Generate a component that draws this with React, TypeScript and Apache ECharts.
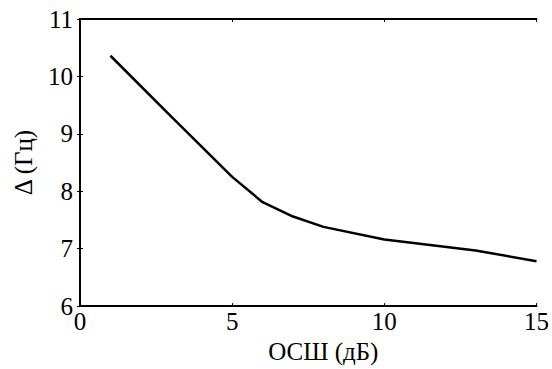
import React, { useEffect, useRef } from "react";
import * as echarts from "echarts";

const snrDb = [1, 3, 5, 6, 7, 8, 10, 13, 15];
const deltaHz = [10.36, 9.3, 8.25, 7.81, 7.56, 7.38, 7.16, 6.97, 6.78];
const xTicks = [0, 5, 10, 15];
const yTicks = [6, 7, 8, 9, 10, 11];
const xName = "ОСШ (дБ)";
const yName = "Δ (Гц)";

export default function App() {
  const ref = useRef<HTMLDivElement>(null);
  useEffect(() => {
    if (!ref.current) return;
    const chart = echarts.init(ref.current, null, { renderer: "svg" });
    const font = "Liberation Serif";
    const fs = 25;
    const axisLine = { show: true, lineStyle: { color: "#000", width: 2 } };
    const tick = { show: true, inside: true, length: 3, lineStyle: { color: "#000", width: 1 } };
    chart.setOption({
      animation: false,
      backgroundColor: "#fff",
      textStyle: { fontFamily: font },
      grid: { left: 80, right: 13, top: 19, bottom: 56, containLabel: false },
      xAxis: [
        {
          type: "value",
          min: xTicks[0],
          max: xTicks[xTicks.length - 1],
          interval: 5,
          name: xName,
          nameLocation: "middle",
          nameGap: 26,
          nameTextStyle: { fontFamily: font, fontSize: fs, color: "#000", padding: [0, 0, 0, 30] },
          axisLine,
          axisTick: tick,
          axisLabel: { fontFamily: font, fontSize: fs, color: "#000", margin: 3 },
          splitLine: { show: false },
        },
        {
          type: "value",
          position: "top",
          min: xTicks[0],
          max: xTicks[xTicks.length - 1],
          interval: 5,
          axisLine,
          axisTick: tick,
          axisLabel: { show: false },
          splitLine: { show: false },
        },
      ],
      yAxis: [
        {
          type: "value",
          min: yTicks[0],
          max: yTicks[yTicks.length - 1],
          interval: 1,
          name: yName,
          nameLocation: "middle",
          nameGap: 44,
          nameRotate: 90,
          nameTextStyle: { fontFamily: font, fontSize: fs, color: "#000" },
          axisLine,
          axisTick: tick,
          axisLabel: { fontFamily: font, fontSize: fs, color: "#000", margin: 7 },
          splitLine: { show: false },
        },
        {
          type: "value",
          position: "right",
          min: yTicks[0],
          max: yTicks[yTicks.length - 1],
          interval: 1,
          axisLine,
          axisTick: tick,
          axisLabel: { show: false },
          splitLine: { show: false },
        },
      ],
      series: [
        {
          type: "line",
          data: snrDb.map((x, i) => [x, deltaHz[i]]),
          showSymbol: false,
          lineStyle: { color: "#000", width: 2.5 },
          xAxisIndex: 0,
          yAxisIndex: 0,
        },
      ],
    });
    return () => chart.dispose();
  }, []);
  return <div ref={ref} style={{ width: 552, height: 369, position: "absolute", left: 0, top: 0 }} />;
}
